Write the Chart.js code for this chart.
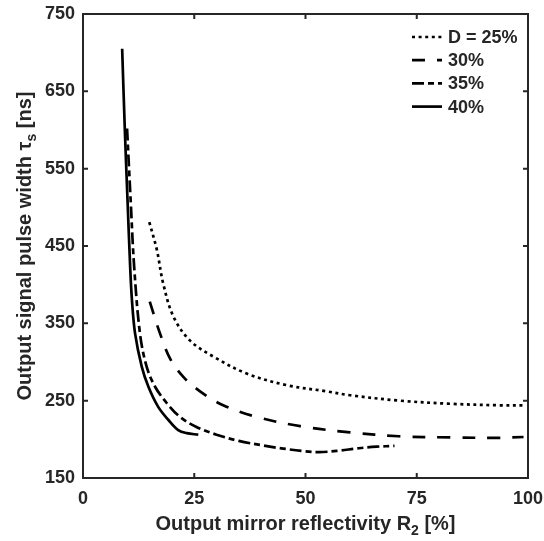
<!DOCTYPE html>
<html>
<head>
<meta charset="utf-8">
<script src="https://cdn.jsdelivr.net/npm/chart.js@4/dist/chart.umd.min.js"></script>
<style>
  html, body { margin: 0; padding: 0; background: #fff; }
  #wrap { width: 544px; height: 541px; position: relative; }
</style>
</head>
<body>
<div id="wrap"><canvas id="c"></canvas></div>
<script>
// Output mirror reflectivity R2 [%] and signal pulse width [ns] for each duty cycle D
const r2_25  = [14.9, 16.6, 18.0, 20.3, 24.0, 29.3, 36.8, 45.8, 54.8, 60.0, 71.2, 82.5, 93.7, 99.0];
const tau_25 = [481, 445, 402, 359, 328, 307, 285, 270, 262, 257, 250, 246, 244, 244];

const r2_30  = [15.0, 17.3, 19.6, 22.5, 26.3, 31.5, 39.0, 48.8, 60.0, 71.0, 82.5, 93.7, 99.0];
const tau_30 = [378, 337, 304, 281, 262, 244, 229, 217, 209, 204, 202.5, 202, 203];

const r2_35  = [9.9, 10.7, 11.5, 12.8, 14.3, 16.2, 18.8, 21.8, 25.5, 30.0, 35.0, 40.5, 45.0, 50.0, 53.0, 57.0, 62.0, 66.0, 70.0];
const tau_35 = [602, 510, 423, 337, 294, 268, 247, 229, 216, 206, 198, 192, 188, 184.5, 183.5, 185, 188.5, 190.5, 191.5];

const r2_40  = [8.8, 9.4, 10.0, 10.6, 11.0, 11.7, 13.2, 14.7, 16.9, 19.2, 21.4, 23.3, 25.9];
const tau_40 = [705, 600, 510, 423, 380, 337, 294, 268, 242, 225, 212, 208, 206];

const seriesLabels = ['D = 25%', '30%', '35%', '40%'];
const xTicks = [0, 25, 50, 75, 100];
const yTicks = [150, 250, 350, 450, 550, 650, 750];

const INK = '#262626';
const FONT = '"Liberation Sans", Arial, Helvetica, sans-serif';

const dashes = [[3, 3.6], [13, 12], [12, 4, 6, 4], []];

function pts(xs, ys) { return xs.map((x, i) => ({ x, y: ys[i] })); }

const datasets = [
  [r2_25, tau_25], [r2_30, tau_30], [r2_35, tau_35], [r2_40, tau_40]
].map(([xs, ys], i) => ({
  label: seriesLabels[i],
  data: pts(xs, ys),
  showLine: true,
  borderColor: '#000',
  borderWidth: 2.7,
  borderDash: dashes[i],
  borderCapStyle: 'butt',
  pointRadius: 0,
  tension: 0.35,
  fill: false
}));

// Box around the plot, inward tick marks on all four sides
const frame = {
  id: 'frame',
  afterDatasetsDraw(chart) {
    const { ctx, chartArea: a, scales: { x, y } } = chart;
    ctx.save();
    ctx.strokeStyle = INK;
    ctx.lineWidth = 2;
    ctx.strokeRect(a.left, a.top, a.right - a.left, a.bottom - a.top);
    const L = 5;
    ctx.beginPath();
    xTicks.forEach(v => {
      const px = x.getPixelForValue(v);
      ctx.moveTo(px, a.bottom); ctx.lineTo(px, a.bottom - L);
      ctx.moveTo(px, a.top);    ctx.lineTo(px, a.top + L);
    });
    yTicks.forEach(v => {
      const py = y.getPixelForValue(v);
      ctx.moveTo(a.left, py);  ctx.lineTo(a.left + L, py);
      ctx.moveTo(a.right, py); ctx.lineTo(a.right - L, py);
    });
    ctx.stroke();
    ctx.restore();
  }
};

// Axis titles with subscripts
function drawSubTitle(ctx, main, sub, tail, cx, baseline) {
  const big = 'bold 20px ' + FONT, small = 'bold 14px ' + FONT;
  ctx.font = big;  const w1 = ctx.measureText(main).width;
  const w3 = ctx.measureText(tail).width;
  ctx.font = small; const w2 = ctx.measureText(sub).width;
  let x0 = cx - (w1 + w2 + w3) / 2;
  ctx.textAlign = 'left';
  ctx.textBaseline = 'alphabetic';
  ctx.font = big;   ctx.fillText(main, x0, baseline);
  ctx.font = small; ctx.fillText(sub, x0 + w1, baseline + 5);
  ctx.font = big;   ctx.fillText(tail, x0 + w1 + w2, baseline);
}

const titles = {
  id: 'titles',
  afterDraw(chart) {
    const { ctx, chartArea: a } = chart;
    ctx.save();
    ctx.fillStyle = INK;
    drawSubTitle(ctx, 'Output mirror reflectivity R', '2', ' [%]', (a.left + a.right) / 2, 530);
    ctx.translate(31, (a.top + a.bottom) / 2);
    ctx.rotate(-Math.PI / 2);
    drawSubTitle(ctx, 'Output signal pulse width \u03C4', 's', ' [ns]', 0, 0);
    ctx.restore();
  }
};

// Legend: line samples with their dash patterns, top right inside the plot
const legendBox = {
  id: 'legendBox',
  afterDraw(chart) {
    const { ctx } = chart;
    ctx.save();
    ctx.fillStyle = INK;
    ctx.font = 'bold 18px ' + FONT;
    ctx.textAlign = 'left';
    ctx.textBaseline = 'middle';
    chart.data.datasets.forEach((ds, i) => {
      const yy = 37 + i * 23.2;
      ctx.strokeStyle = '#000';
      ctx.lineWidth = 2.7;
      ctx.lineCap = 'butt';
      ctx.setLineDash(ds.borderDash);
      ctx.beginPath();
      ctx.moveTo(412, yy); ctx.lineTo(442, yy);
      ctx.stroke();
      ctx.setLineDash([]);
      ctx.fillText(ds.label, 448, yy + 1);
    });
    ctx.restore();
  }
};

new Chart(document.getElementById('c'), {
  type: 'scatter',
  data: { datasets },
  options: {
    responsive: true,
    maintainAspectRatio: false,
    animation: false,
    layout: { padding: { top: 14, right: 16, left: 0, bottom: 0 } },
    plugins: { legend: { display: false }, tooltip: { enabled: false } },
    scales: {
      x: {
        type: 'linear',
        min: 0, max: 100,
        afterBuildTicks: s => { s.ticks = xTicks.map(v => ({ value: v })); },
        afterFit: s => { s.height = 63; s.paddingLeft = 0; s.paddingRight = 0; },
        grid: { display: false, drawTicks: false },
        border: { display: false },
        ticks: { color: INK, font: { family: FONT, size: 18, weight: 'bold' }, padding: 10, maxRotation: 0 }
      },
      y: {
        type: 'linear',
        min: 150, max: 750,
        afterBuildTicks: s => { s.ticks = yTicks.map(v => ({ value: v })); },
        afterFit: s => { s.width = 83; s.paddingTop = 0; s.paddingBottom = 0; },
        grid: { display: false, drawTicks: false },
        border: { display: false },
        ticks: { color: INK, font: { family: FONT, size: 18, weight: 'bold' }, padding: 8 }
      }
    }
  },
  plugins: [frame, titles, legendBox]
});
</script>
</body>
</html>
